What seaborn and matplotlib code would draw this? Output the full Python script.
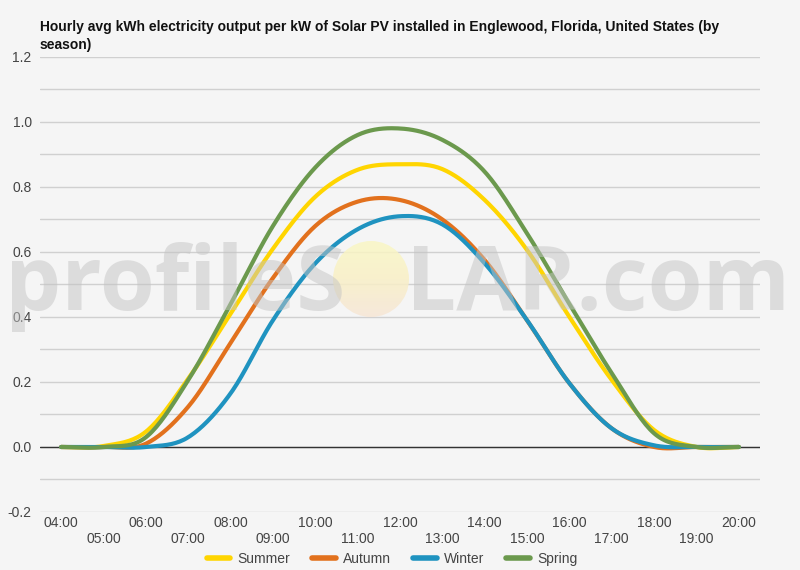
import numpy as np
import pandas as pd
import seaborn as sns
import matplotlib.pyplot as plt
from matplotlib.patches import Circle
from matplotlib.colors import LinearSegmentedColormap

# data (04:00 .. 20:00)
hours = ["04:00", "05:00", "06:00", "07:00", "08:00", "09:00", "10:00", "11:00", "12:00",
         "13:00", "14:00", "15:00", "16:00", "17:00", "18:00", "19:00", "20:00"]
summer = [0.0, 0.003, 0.047, 0.21, 0.41, 0.61, 0.77, 0.853, 0.87, 0.855, 0.76, 0.606, 0.40, 0.206, 0.052, 0.0, 0.0]
autumn = [0.0, 0.0, 0.01, 0.124, 0.32, 0.52, 0.68, 0.755, 0.76, 0.70, 0.575, 0.39, 0.196, 0.057, 0.0, 0.0, 0.0]
winter = [0.0, 0.0, 0.0, 0.03, 0.165, 0.39, 0.565, 0.67, 0.71, 0.685, 0.565, 0.39, 0.196, 0.057, 0.005, 0.0, 0.0]
spring = [0.0, 0.0, 0.03, 0.206, 0.44, 0.68, 0.86, 0.96, 0.98, 0.945, 0.847, 0.657, 0.44, 0.227, 0.042, 0.0, 0.0]

seasons = ["Summer", "Autumn", "Winter", "Spring"]
colors = ["#FFD500", "#E2711D", "#1F93C0", "#6B994D"]
series = [summer, autumn, winter, spring]


def smooth(y, steps=20):
    # catmull-rom curve through the hourly points (like the chart's curved lines)
    y = np.asarray(y, dtype=float)
    n = len(y)
    m = np.zeros(n)
    m[1:-1] = (y[2:] - y[:-2]) / 2
    xs, ys = [], []
    for i in range(n - 1):
        t = np.linspace(0, 1, steps, endpoint=False)
        h00 = 2 * t**3 - 3 * t**2 + 1
        h10 = t**3 - 2 * t**2 + t
        h01 = -2 * t**3 + 3 * t**2
        h11 = t**3 - t**2
        xs.append(i + t)
        ys.append(h00 * y[i] + h10 * m[i] + h01 * y[i + 1] + h11 * m[i + 1])
    xs.append([n - 1])
    ys.append([y[-1]])
    return np.concatenate(xs), np.concatenate(ys)


frames = []
for name, vals in zip(seasons, series):
    xs, ys = smooth(vals)
    frames.append(pd.DataFrame({"x": xs, "y": ys, "season": name}))
df = pd.concat(frames, ignore_index=True)

sns.set_theme(style="white")
plt.rcParams["font.family"] = ["Liberation Sans", "DejaVu Sans"]

bg = "#f5f5f5"
fig = plt.figure(figsize=(8, 5.7), dpi=100, facecolor=bg)
ax = fig.add_axes([0.05, 0.1018, 0.9, 0.7982])
ax.set_facecolor(bg)

sns.lineplot(data=df, x="x", y="y", hue="season", palette=colors, hue_order=seasons,
             linewidth=3, ax=ax, legend=False, sort=False, zorder=3)

ax.set_xlim(-0.5, len(hours) - 0.5)
ax.set_ylim(-0.2, 1.2)
for v in np.arange(-0.2, 1.21, 0.1):
    ax.axhline(v, color="#d0d0d0", lw=1, zorder=1)
ax.axhline(0, color="#333333", lw=1, zorder=2)
ax.set_yticks(np.arange(-0.2, 1.21, 0.2))
ax.set_yticklabels([f"{v:.1f}" for v in np.arange(-0.2, 1.21, 0.2)])
ax.set_xticks(range(len(hours)))
ax.set_xticklabels([h if i % 2 == 0 else "\n" + h for i, h in enumerate(hours)])
ax.tick_params(axis="both", length=0, labelsize=10, labelcolor="#444444", pad=3)
ax.tick_params(axis="y", pad=6)
for s in ax.spines.values():
    s.set_visible(False)
ax.set_xlabel("")
ax.set_ylabel("")

fig.text(0.05, 0.965, "Hourly avg kWh electricity output per kW of Solar PV installed in Englewood, Florida, United States (by\nseason)",
         fontsize=10, fontweight="bold", color="#111111", va="top", ha="left", linespacing=1.35)

# legend
handles = [plt.Line2D([], [], color=c, lw=4) for c in colors]
fig.legend(handles, seasons, loc="lower center", bbox_to_anchor=(0.49, -0.015), ncol=4, frameon=False,
           fontsize=10, handlelength=1.7, handletextpad=0.5, columnspacing=1.6,
           labelcolor="#444444")

# watermark
fig.text(0.006, 0.456, "profileS", fontsize=64, family="Open Sans", fontweight="bold",
         color="#c4c4c4", alpha=0.5, ha="left", va="baseline", zorder=10)
fig.text(0.988, 0.456, "LAR.com", fontsize=64, family="Open Sans", fontweight="bold",
         color="#c4c4c4", alpha=0.5, ha="right", va="baseline", zorder=10)
sun_ax = fig.add_axes([(371 - 38) / 800, (570 - 279 - 38) / 570, 76 / 800, 76 / 570], zorder=10)
sun_ax.set_axis_off()
sun_ax.patch.set_alpha(0)
sun_cmap = LinearSegmentedColormap.from_list("sun", ["#faf7c4", "#f9f0c6", "#f7e6d6"])
img = sun_ax.imshow(np.linspace(0, 1, 100).reshape(-1, 1), cmap=sun_cmap, aspect="auto",
                    extent=(0, 1, 0, 1), origin="upper", alpha=0.85)
clip = Circle((0.5, 0.5), 0.5, transform=sun_ax.transAxes)
img.set_clip_path(clip)
sun_ax.set_xlim(0, 1)
sun_ax.set_ylim(0, 1)

fig.savefig("out.png", dpi=100, facecolor=bg)
